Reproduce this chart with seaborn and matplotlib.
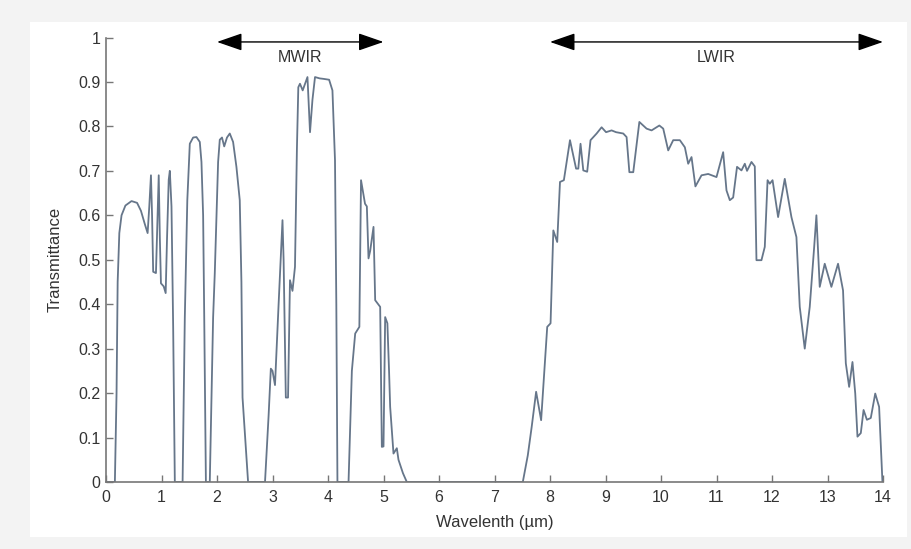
import matplotlib
matplotlib.use("Agg")
import matplotlib.pyplot as plt
from matplotlib.patches import Rectangle
import seaborn as sns
import pandas as pd

wavelength = [0.0, 0.16, 0.19, 0.21, 0.24, 0.28, 0.35, 0.46, 0.56, 0.63, 0.70, 0.75, 0.78, 0.81, 0.83, 0.85,
              0.90, 0.93, 0.95, 0.97, 0.99, 1.04, 1.075, 1.10, 1.13, 1.15, 1.18, 1.21, 1.24, 1.38, 1.42, 1.465,
              1.51, 1.57, 1.63, 1.69, 1.72, 1.75, 1.77, 1.80, 1.87, 1.93, 1.96, 2.02, 2.05, 2.09, 2.13, 2.18,
              2.23, 2.29, 2.35, 2.41, 2.44, 2.46, 2.56, 2.865, 2.93, 2.97, 3.00, 3.045, 3.11, 3.18, 3.20, 3.24,
              3.28, 3.315, 3.36, 3.405, 3.44, 3.465, 3.495, 3.544, 3.63, 3.676, 3.72, 3.766, 3.85, 3.915, 4.02,
              4.08, 4.126, 4.15, 4.17, 4.37, 4.43, 4.49, 4.565, 4.595, 4.667, 4.70, 4.73, 4.76, 4.82, 4.85, 4.94,
              4.97, 5.00, 5.03, 5.07, 5.10, 5.12, 5.18, 5.24, 5.27, 5.35, 5.42, 7.51, 7.60, 7.67, 7.75, 7.84,
              7.95, 8.01, 8.06, 8.13, 8.18, 8.25, 8.36, 8.47, 8.51, 8.55, 8.60, 8.67, 8.73, 8.84, 8.93, 9.01,
              9.11, 9.19, 9.32, 9.38, 9.43, 9.50, 9.61, 9.74, 9.83, 9.97, 10.04, 10.13, 10.22, 10.34, 10.43,
              10.49, 10.55, 10.62, 10.73, 10.85, 11.00, 11.12, 11.18, 11.24, 11.30, 11.37, 11.45, 11.51, 11.55,
              11.63, 11.69, 11.72, 11.81, 11.87, 11.92, 11.96, 12.01, 12.11, 12.23, 12.35, 12.44, 12.50, 12.59,
              12.68, 12.76, 12.80, 12.86, 12.95, 13.07, 13.19, 13.28, 13.33, 13.39, 13.45, 13.50, 13.54, 13.60,
              13.65, 13.71, 13.78, 13.86, 13.93, 13.99]
transmittance = [0.0, 0.0, 0.20, 0.45, 0.56, 0.60, 0.622, 0.632, 0.628, 0.61, 0.58, 0.56, 0.62, 0.69, 0.60, 0.473,
                 0.47, 0.60, 0.69, 0.55, 0.447, 0.44, 0.425, 0.55, 0.68, 0.70, 0.62, 0.35, 0.0, 0.0, 0.37, 0.634,
                 0.761, 0.775, 0.776, 0.765, 0.72, 0.60, 0.37, 0.0, 0.0, 0.37, 0.47, 0.72, 0.77, 0.775, 0.755, 0.775,
                 0.784, 0.765, 0.709, 0.634, 0.45, 0.19, 0.0, 0.0, 0.15, 0.255, 0.25, 0.218, 0.40, 0.589, 0.50, 0.19,
                 0.19, 0.454, 0.43, 0.484, 0.75, 0.888, 0.896, 0.881, 0.911, 0.787, 0.86, 0.911, 0.908, 0.907, 0.905,
                 0.881, 0.724, 0.40, 0.0, 0.0, 0.25, 0.334, 0.349, 0.679, 0.626, 0.62, 0.503, 0.52, 0.574, 0.409, 0.394,
                 0.079, 0.08, 0.371, 0.357, 0.25, 0.169, 0.064, 0.076, 0.05, 0.02, 0.0, 0.0, 0.06, 0.124, 0.203, 0.139,
                 0.349, 0.357, 0.566, 0.54, 0.675, 0.679, 0.769, 0.705, 0.705, 0.761, 0.701, 0.698, 0.769, 0.784, 0.798, 0.787,
                 0.791, 0.787, 0.784, 0.776, 0.697, 0.697, 0.81, 0.795, 0.791, 0.802, 0.795, 0.746, 0.769, 0.769, 0.753,
                 0.716, 0.731, 0.665, 0.69, 0.693, 0.686, 0.742, 0.656, 0.634, 0.64, 0.709, 0.701, 0.716, 0.70,
                 0.72, 0.71, 0.499, 0.499, 0.529, 0.679, 0.671, 0.679, 0.596, 0.682, 0.596, 0.551, 0.394, 0.30,
                 0.394, 0.529, 0.60, 0.439, 0.491, 0.439, 0.491, 0.431, 0.267, 0.214, 0.27, 0.199, 0.102, 0.11,
                 0.162, 0.14, 0.144, 0.199, 0.169, 0.0]

bands = ["MWIR", "LWIR"]
band_start = [2.0, 8.0]
band_end = [5.0, 14.0]

x_ticks = list(range(0, 15))
y_ticks = [0, 0.1, 0.2, 0.3, 0.4, 0.5, 0.6, 0.7, 0.8, 0.9, 1]
y_tick_labels = ["0", "0.1", "0.2", "0.3", "0.4", "0.5", "0.6", "0.7", "0.8", "0.9", "1"]

sns.set_theme(style="ticks")
plt.rcParams['font.family'] = ['Liberation Sans', 'DejaVu Sans']

fig = plt.figure(figsize=(9.11, 5.49), dpi=100)
fig.patch.set_facecolor("#f3f3f3")
bg = fig.add_axes([0, 0, 1, 1], zorder=-10)
bg.set_xlim(0, 911)
bg.set_ylim(549, 0)
bg.axis("off")
bg.add_patch(Rectangle((30, 22), 877, 515, facecolor="white", edgecolor="none"))

ax = fig.add_axes([106 / 911, 1 - 482 / 549, 777 / 911, 444.5 / 549], zorder=1)
ax.set_facecolor("none")

df = pd.DataFrame({"Wavelength": wavelength, "Transmittance": transmittance})
sns.lineplot(data=df, x="Wavelength", y="Transmittance", ax=ax, sort=False, estimator=None,
             color="#66768a", linewidth=1.3)

ax.set_xlim(0, 14)
ax.set_ylim(0, 1)
ax.set_xticks(x_ticks)
ax.set_xticklabels([str(t) for t in x_ticks])
ax.set_yticks(y_ticks)
ax.set_yticklabels(y_tick_labels)
ax.tick_params(direction="in", length=5, width=1, colors="#777777", labelcolor="#333333", labelsize=11.5)
ax.tick_params(axis="y", pad=4)
ax.tick_params(axis="x", pad=6)
for s in ["left", "bottom"]:
    ax.spines[s].set_color("#777777")
    ax.spines[s].set_linewidth(1.2)
sns.despine(ax=ax)

ax.set_xlabel("Wavelenth (µm)", fontsize=12, color="#333333", labelpad=7)
ax.set_ylabel("Transmittance", fontsize=12, color="#333333", labelpad=11)

for name, a, b in zip(bands, band_start, band_end):
    ax.annotate("", xy=(b, 0.99), xytext=(a, 0.99), xycoords="data",
                arrowprops=dict(arrowstyle="<|-|>,head_length=1.3,head_width=0.45", color="black",
                                lw=1.0, shrinkA=0, shrinkB=0), annotation_clip=False)
    ax.text((a + b) / 2, 0.956, name, ha="center", va="center", fontsize=11.5, color="#333333")

fig.savefig("out.png", dpi=100, facecolor=fig.get_facecolor())
